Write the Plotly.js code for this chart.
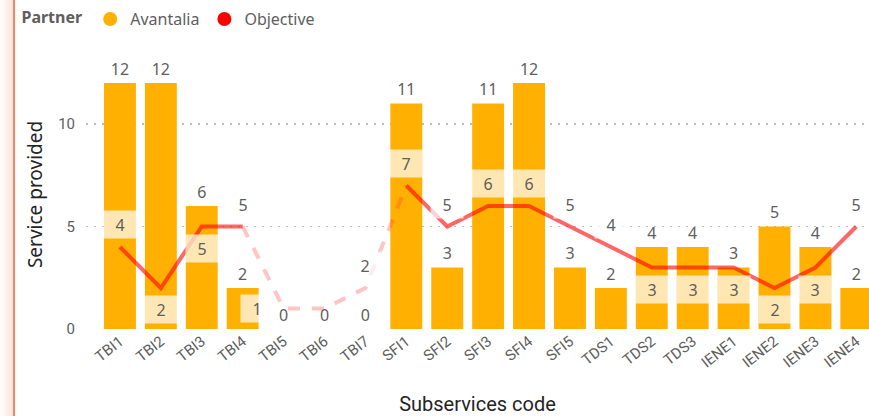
<!DOCTYPE html>
<html>
<head>
<meta charset="utf-8">
<script src="https://cdn.plot.ly/plotly-3.0.1.min.js"></script>
<style>
  html, body { margin: 0; padding: 0; background: #fff; overflow: hidden; }
  #frame { position: absolute; left: 0; top: 0; width: 13px; height: 416px;
           background: linear-gradient(to right, #ffffff 0%, #fde3da 100%);
           border-right: 2px solid #f4876a; z-index: 5; }
  #chart { width: 869px; height: 416px; }
</style>
</head>
<body>
<div id="frame"></div>
<div id="chart"></div>
<script>
// ---- data ----
const categories = ['TBI1','TBI2','TBI3','TBI4','TBI5','TBI6','TBI7','SFI1','SFI2','SFI3','SFI4','SFI5','TDS1','TDS2','TDS3','IENE1','IENE2','IENE3','IENE4'];
const avantalia  = [12, 12, 6, 2, 0, 0, 0, 11, 3, 11, 12, 3, 2, 4, 4, 3, 5, 4, 2];
const objective  = [4, 2, 5, 5, 1, 1, 2, 7, 5, 6, 6, 5, 4, 3, 3, 3, 2, 3, 5];
const yTicks     = [0, 5, 10];

// label placement for the Objective labels (layout choice, not data)
const objLabelPlace = ['above','below','below','above','left','hide','above','above','above','above','above','above','above','below','below','below','below','below','above'];
const fadedFrom = 3, fadedTo = 7;

const orange = '#FFB000';
const grey = '#605E5C';

const mainY  = objective.map((v, i) => (i <= fadedFrom || i >= fadedTo) ? v : null);
const fadedY = objective.map((v, i) => (i >= fadedFrom && i <= fadedTo) ? v : null);

const traces = [
  {
    type: 'bar', x: categories, y: avantalia, name: 'Avantalia',
    marker: { color: orange }, showlegend: false,
    text: avantalia.map(String), textposition: 'outside', cliponaxis: false,
    textfont: { family: 'Segoe UI, Noto Sans, sans-serif', size: 16, color: grey },
    hoverinfo: 'skip'
  },
  {
    type: 'scatter', mode: 'lines', x: categories, y: mainY, name: 'Objective',
    line: { color: 'rgba(255,0,0,0.6)', width: 4 }, showlegend: false, hoverinfo: 'skip',
    connectgaps: false
  },
  {
    type: 'scatter', mode: 'lines', x: categories, y: fadedY, name: 'Objective',
    line: { color: 'rgba(255,60,60,0.3)', width: 4, dash: 'dash' }, showlegend: false, hoverinfo: 'skip'
  },
  { type: 'scatter', mode: 'markers', x: [null], y: [null], name: 'Avantalia',
    marker: { color: orange, size: 14, symbol: 'circle' } },
  { type: 'scatter', mode: 'markers', x: [null], y: [null], name: 'Objective',
    marker: { color: '#FF0000', size: 14, symbol: 'circle' } }
];

const annotations = [];
objective.forEach((v, i) => {
  const p = objLabelPlace[i];
  if (p === 'hide') return;
  const a = {
    x: categories[i], y: v, xref: 'x', yref: 'y', text: String(v), showarrow: false,
    font: { family: 'Segoe UI, Noto Sans, sans-serif', size: 16, color: grey },
    bgcolor: 'rgba(255,255,255,0.7)', borderpad: 3, width: 26, height: 21
  };
  if (p === 'above') a.yshift = 22;
  if (p === 'below') a.yshift = -22;
  if (p === 'left') a.xshift = -27;
  annotations.push(a);
});

const layout = {
  width: 869, height: 416,
  margin: { l: 86, r: 0, t: 60, b: 87 },
  paper_bgcolor: '#ffffff', plot_bgcolor: '#ffffff',
  font: { family: 'Segoe UI, Noto Sans, sans-serif', color: grey },
  bargap: 0.22,
  showlegend: true,
  legend: {
    orientation: 'h', x: -0.085, xanchor: 'left', y: 1.215, yanchor: 'top',
    title: { text: '<b>Partner</b>', font: { size: 16, color: grey } },
    font: { size: 16, color: grey }, itemwidth: 30, tracegroupgap: 0
  },
  xaxis: {
    type: 'category', range: [-0.83, 18.31], tickangle: -38,
    tickfont: { family: 'Roboto, sans-serif', size: 15, color: grey },
    showgrid: false, showline: false, zeroline: false, ticks: '',
    title: { text: 'Subservices code', font: { family: 'Roboto, sans-serif', size: 20, color: '#252423' }, standoff: 28 }
  },
  yaxis: {
    range: [0, 13.12], tickvals: yTicks, ticktext: yTicks.map(String),
    tickfont: { family: 'Roboto, sans-serif', size: 15, color: grey },
    showgrid: true, gridcolor: '#BDBBB9', griddash: '2px,6px', gridwidth: 1.5,
    zeroline: false, showline: false, ticks: '', ticklabelstandoff: 10,
    title: { text: 'Service provided', font: { family: 'Segoe UI, Noto Sans, sans-serif', size: 19, color: '#252423' }, standoff: 10 }
  },
  annotations: annotations
};

Plotly.newPlot('chart', traces, layout, { displayModeBar: false, staticPlot: true });
</script>
</body>
</html>
